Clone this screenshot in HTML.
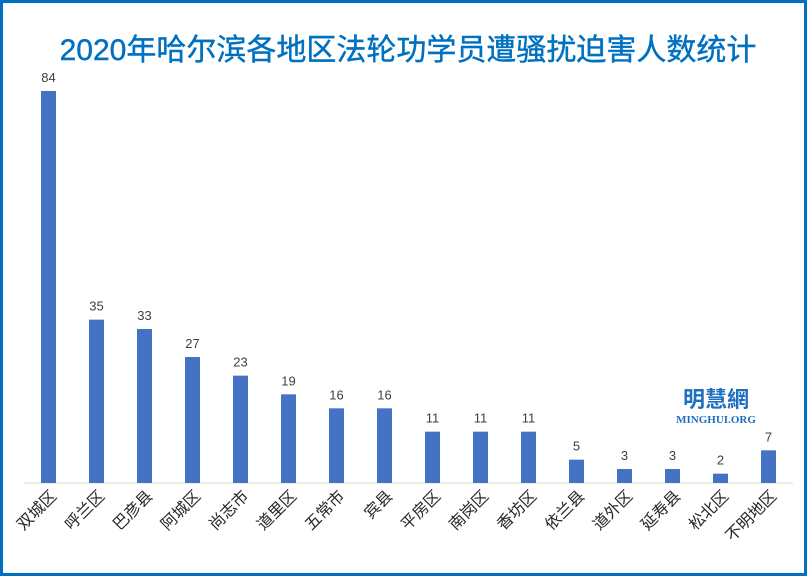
<!DOCTYPE html>
<html><head><meta charset="utf-8"><style>
html,body{margin:0;padding:0;background:#fff}
svg{display:block}
text{font-family:"Liberation Sans","Noto Sans CJK SC",sans-serif}
</style></head><body>
<svg width="807" height="576" viewBox="0 0 807 576" xmlns="http://www.w3.org/2000/svg">
<rect x="1.5" y="1.5" width="804" height="573" fill="#fff" stroke="#0070C0" stroke-width="3"/>
<text x="408" y="60" text-anchor="middle" font-size="30" fill="#0070C0" stroke="#0070C0" stroke-width="0.4">2020年哈尔滨各地区法轮功学员遭骚扰迫害人数统计</text>
<line x1="24" y1="483" x2="793" y2="483" stroke="#d9d9d9" stroke-width="1"/>
<g fill="#4472C4" id="bars"></g>
<g id="vals" font-size="13" fill="#404040" text-anchor="middle"></g>
<g id="labs" font-size="16" fill="#262626" text-anchor="end"></g>
<text x="716" y="407" text-anchor="middle" font-size="22" font-weight="bold" fill="#1f6fbf">明慧網</text>
<text x="716" y="423" text-anchor="middle" font-size="11" font-weight="bold" fill="#1f6fbf" style="font-family:'Liberation Serif',serif">MINGHUI.ORG</text>
</svg>
<script>
var d=[["双城区",84],["呼兰区",35],["巴彦县",33],["阿城区",27],["尚志市",23],["道里区",19],["五常市",16],["宾县",16],["平房区",11],["南岗区",11],["香坊区",11],["依兰县",5],["道外区",3],["延寿县",3],["松北区",2],["不明地区",7]];
var ns="http://www.w3.org/2000/svg";
function el(t,a,p,txt){var e=document.createElementNS(ns,t);for(var k in a)e.setAttribute(k,a[k]);if(txt)e.textContent=txt;document.getElementById(p).appendChild(e);}
d.forEach(function(v,i){var cx=48.5+48*i,h=v[1]*4.667;
el("rect",{x:cx-7.5,y:483-h,width:15,height:h},"bars");
el("text",{x:cx,y:483-h-9},"vals",String(v[1]));
var lx=cx+9,ly=497;
el("text",{x:lx,y:ly,transform:"rotate(-45 "+lx+" "+ly+")"},"labs",v[0]);});
</script>
</body></html>
